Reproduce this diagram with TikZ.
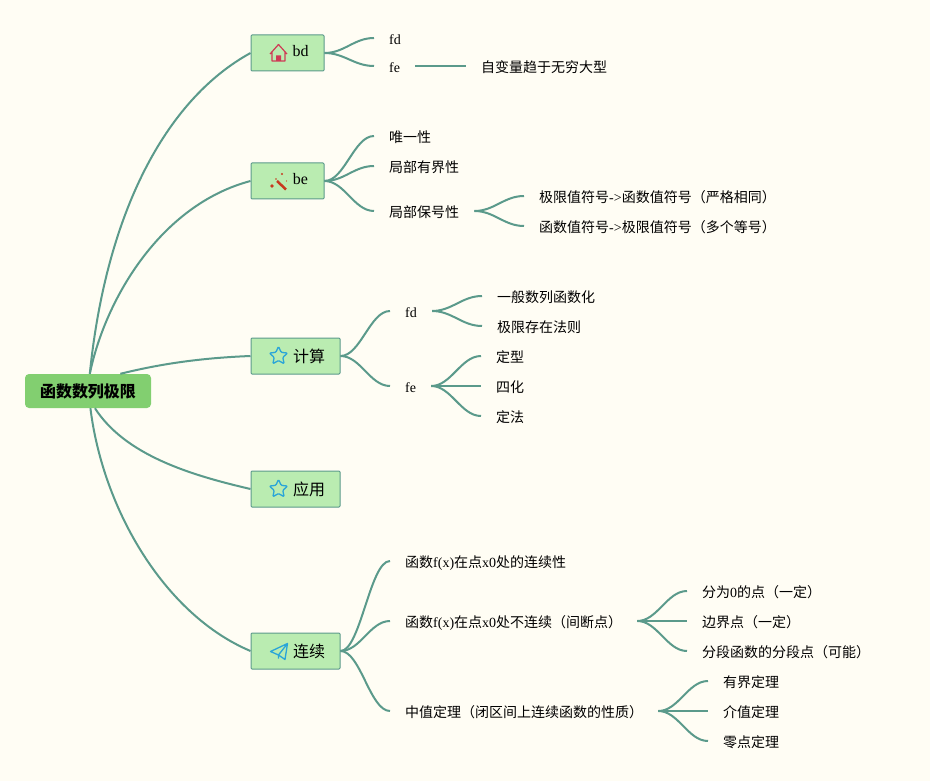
\documentclass[tikz,border=0pt]{standalone}
\usepackage{fontspec}
\setmainfont{Liberation Serif}
\newfontfamily\cjk{Noto Sans CJK SC}
\newcommand{\zh}[1]{{\cjk #1}}
\usetikzlibrary{positioning,calc,shapes.geometric}
\definecolor{paper}{HTML}{FFFDF4}
\definecolor{rootfill}{HTML}{82CF70}
\definecolor{topicfill}{HTML}{BAECB1}
\definecolor{linkcol}{HTML}{5B9A8B}
\definecolor{iconred}{HTML}{CF3A55}
\definecolor{iconorange}{HTML}{C8391E}
\definecolor{iconblue}{HTML}{2AA5D8}
\tikzset{
  rootbox/.style={fill=rootfill,rounded corners=4pt,minimum width=126pt,minimum height=34pt,inner sep=0pt,font=\fontsize{16}{16}\selectfont\bfseries},
  topic/.style={draw=linkcol,fill=topicfill,line width=1pt,rounded corners=1pt,minimum height=36pt,inner sep=0pt,font=\fontsize{16}{16}\selectfont},
  leaf/.style={anchor=west,inner xsep=15pt,inner ysep=0pt,text height=13pt,text depth=0pt,font=\fontsize{14}{14}\selectfont},
  branch/.style={draw=linkcol,line width=2pt,to path={.. controls ($(\tikztostart)+(20,0)$) and ($(\tikztotarget)+(-20,0)$) .. (\tikztotarget)}},
  mainlink/.style={draw=linkcol,line width=2pt},
  housemark/.pic={
    \draw[iconred,line width=1.2pt,line join=round] (-8.5,1.5)--(0,-8)--(8.5,1.5) (-6.5,-1)--(-6.5,8.5)--(6.5,8.5)--(6.5,-1);
    \fill[iconred] (-2.5,8.5) rectangle (2.5,3) arc (0:180:2.5);
  },
  wandmark/.pic={
    \draw[iconorange,line width=2.5pt] (-1.5,-.5)--(7.5,8);
    \fill[iconorange] (-6.5,4.5) circle (1.8) (3.5,-7.5) circle (1.2) (8,-.5) circle (.7) (-2.5,-2.5) circle (.8);
  },
  starmark/.pic={
    \node[star,star points=5,star point ratio=2.1,draw=iconblue,line width=1.3pt,rounded corners=1pt,minimum size=19pt,inner sep=0pt] (-shape) {};
  },
  planemark/.pic={
    \draw[iconblue,line width=1.3pt,line join=round] (9,-8)--(-8,0)--(0,3.5)--(6.5,8)--(9,-8)--(0,3.5)--(0,7);
  },
}
\begin{document}
\begin{tikzpicture}[x=1pt,y=-1pt]
\useasboundingbox[fill=paper] (0,0) rectangle (930,781);
\node[rootbox] (root) at (88,391) {\zh{函数数列极限}};
\node[topic,minimum width=73pt] (bd) at (287.5,53) {\hspace*{26pt}\raisebox{4.5pt}{bd}};
\node[topic,minimum width=73pt] (be) at (287.5,181) {\hspace*{26pt}\raisebox{4.5pt}{be}};
\node[topic,minimum width=89pt] (calc) at (295.5,356) {\hspace*{27pt}\zh{计算}};
\node[topic,minimum width=89pt] (apply) at (295.5,489) {\hspace*{27pt}\zh{应用}};
\node[topic,minimum width=89pt] (cont) at (295.5,651) {\hspace*{27pt}\zh{连续}};
\pic at (278.5,52.5) {housemark};
\pic at (278.5,181.5) {wandmark};
\pic at (278.5,356) {starmark};
\pic at (278.5,489) {starmark};
\pic at (278.5,651.5) {planemark};

\node[leaf] (bdfd) at (374,38) {fd};
\node[leaf] (bdfe) at (374,66) {fe};
\node[leaf] (infty) at (466,66) {\zh{自变量趋于无穷大型}};

\node[leaf] (uniq) at (374,136) {\zh{唯一性}};
\node[leaf] (bound) at (374,166) {\zh{局部有界性}};
\node[leaf] (sign) at (374,211) {\zh{局部保号性}};
\node[leaf] (signa) at (524,196) {\zh{极限值符号}->\zh{函数值符号（严格相同）}};
\node[leaf] (signb) at (524,226) {\zh{函数值符号}->\zh{极限值符号（多个等号）}};

\node[leaf] (calcfd) at (390,311) {fd};
\node[leaf] (calcfe) at (390,386) {fe};
\node[leaf] (seq) at (482,296) {\zh{一般数列函数化}};
\node[leaf] (rule) at (482,326) {\zh{极限存在法则}};
\node[leaf] (ftype) at (481,356) {\zh{定型}};
\node[leaf] (four) at (481,386) {\zh{四化}};
\node[leaf] (fix) at (481,416) {\zh{定法}};

\node[leaf] (conta) at (390,561) {\zh{函数}f(x)\zh{在点}x0\zh{处的连续性}};
\node[leaf] (contb) at (390,621) {\zh{函数}f(x)\zh{在点}x0\zh{处不连续（间断点）}};
\node[leaf] (contc) at (390,711) {\zh{中值定理（闭区间上连续函数的性质）}};
\node[leaf] (zero) at (687,591) {\zh{分为}0\zh{的点（一定）}};
\node[leaf] (edge) at (687,621) {\zh{边界点（一定）}};
\node[leaf] (piece) at (687,651) {\zh{分段函数的分段点（可能）}};
\node[leaf] (thma) at (708,681) {\zh{有界定理}};
\node[leaf] (thmb) at (708,711) {\zh{介值定理}};
\node[leaf] (thmc) at (708,741) {\zh{零点定理}};

\draw[mainlink] (root.84) .. controls (106,214) and (165,100) .. (bd.west);
\draw[mainlink] (root.84) .. controls (105,300) and (160,205) .. (be.west);
\draw[mainlink] (root.28) .. controls (160,364) and (200,358) .. (calc.west);
\draw[mainlink] (root.-68) .. controls (125,455) and (190,475) .. (apply.west);
\draw[mainlink] (root.-82) .. controls (103,510) and (165,615) .. (cont.west);

\draw[branch] (bd.east) to (bdfd.west);
\draw[branch] (bd.east) to (bdfe.west);
\draw[mainlink] (bdfe.east) -- (infty.west);
\draw[branch] (be.east) to (uniq.west);
\draw[branch] (be.east) to (bound.west);
\draw[branch] (be.east) to (sign.west);
\draw[branch] (sign.east) to (signa.west);
\draw[branch] (sign.east) to (signb.west);
\draw[branch] (calc.east) to (calcfd.west);
\draw[branch] (calc.east) to (calcfe.west);
\draw[branch] (calcfd.east) to (seq.west);
\draw[branch] (calcfd.east) to (rule.west);
\draw[branch] (calcfe.east) to (ftype.west);
\draw[branch] (calcfe.east) to (four.west);
\draw[branch] (calcfe.east) to (fix.west);
\draw[branch] (cont.east) to (conta.west);
\draw[branch] (cont.east) to (contb.west);
\draw[branch] (cont.east) to (contc.west);
\draw[branch] (contb.east) to (zero.west);
\draw[branch] (contb.east) to (edge.west);
\draw[branch] (contb.east) to (piece.west);
\draw[branch] (contc.east) to (thma.west);
\draw[branch] (contc.east) to (thmb.west);
\draw[branch] (contc.east) to (thmc.west);
\end{tikzpicture}
\end{document}
